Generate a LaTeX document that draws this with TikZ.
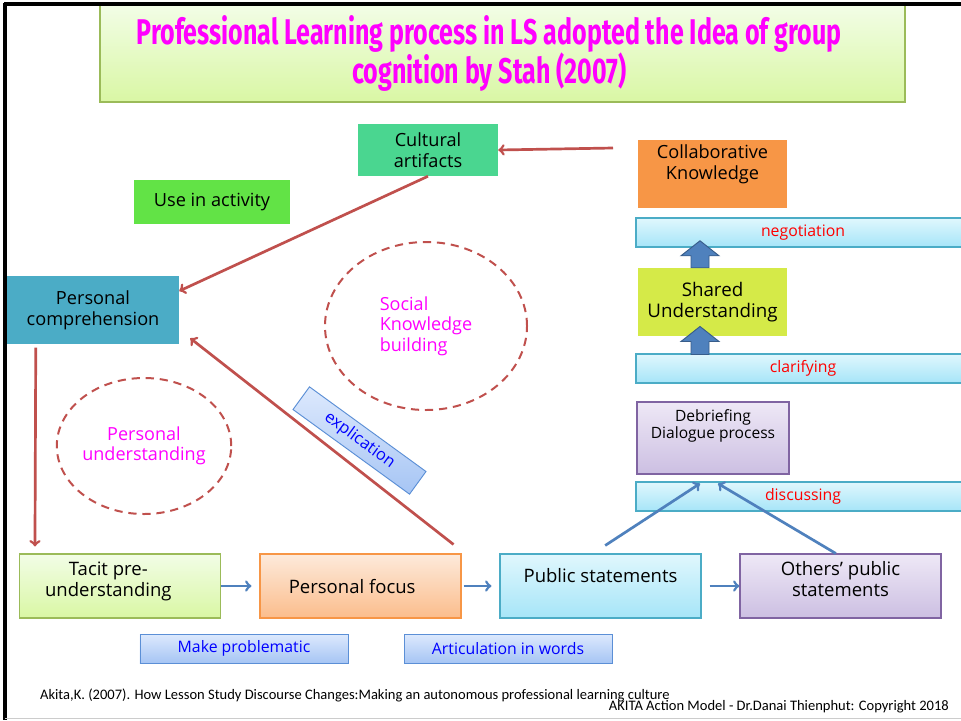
\documentclass[tikz,border=0pt]{standalone}
\usepackage{fontspec}
\setmainfont{Open Sans}
\newfontfamily\titlefont[FakeStretch=0.7]{Fira Sans}
\newfontfamily\notefont{Carlito}
\usetikzlibrary{arrows,shapes.geometric}

\definecolor{arrowred}{HTML}{C0504D}
\definecolor{arrowblue}{HTML}{4F81BD}
\definecolor{arrowedge}{HTML}{385D8A}
\definecolor{titletop}{HTML}{F2FDE6}
\definecolor{titlebottom}{HTML}{D9F7A4}
\definecolor{greenedge}{HTML}{9BBB59}
\definecolor{cyantop}{HTML}{E0F7FD}
\definecolor{cyanbottom}{HTML}{A6E5F8}
\definecolor{cyanedge}{HTML}{4BACC6}
\definecolor{lilactop}{HTML}{EEE8F6}
\definecolor{lilacbottom}{HTML}{CCBFE2}
\definecolor{lilacedge}{HTML}{8064A2}
\definecolor{peachtop}{HTML}{FDEADB}
\definecolor{peachbottom}{HTML}{FBBD8C}
\definecolor{orangeedge}{HTML}{F79646}
\definecolor{bluetop}{HTML}{DDE9FD}
\definecolor{bluebottom}{HTML}{A6C5F4}
\definecolor{blueedge}{HTML}{5B8FD6}
\definecolor{cultgreen}{HTML}{4AD690}
\definecolor{usegreen}{HTML}{62E346}
\definecolor{compteal}{HTML}{4BACC6}
\definecolor{sharedlime}{HTML}{D5EA48}
\definecolor{textmagenta}{HTML}{FF00FF}

\begin{document}
\begin{tikzpicture}[x=0.03cm, y=-0.03cm]

	\tikzstyle{flat_box}=[rectangle, align=center, inner sep=0pt, font=\fontsize{15.5}{18}\selectfont]
	\tikzstyle{main_box}=[rectangle, minimum width=6.03cm, minimum height=1.92cm, align=center, inner sep=0pt, line width=0.9pt, font=\fontsize{15.8}{17.5}\selectfont]
	\tikzstyle{step_bar}=[rectangle, minimum width=10.02cm, minimum height=0.87cm, top color=cyantop, bottom color=cyanbottom, draw=cyanedge, line width=0.9pt, text=red, font=\fontsize{13.5}{15}\selectfont]
	\tikzstyle{tag_box}=[rectangle, minimum width=6.24cm, minimum height=0.87cm, top color=bluetop, bottom color=bluebottom, draw=blueedge, line width=0.8pt, text=blue, font=\fontsize{13.5}{15}\selectfont]
	\tikzstyle{thought_cloud}=[ellipse, draw=arrowred, line width=1.7pt, dash pattern=on 7pt off 5pt, text=textmagenta, inner sep=0pt, align=center, font=\fontsize{15.4}{17.5}\selectfont]
	\tikzstyle{red_arrow}=[->, draw=arrowred, line width=2.3pt]
	\tikzstyle{blue_arrow}=[->, draw=arrowblue, line width=2.3pt]
	\tikzstyle{block_arrow}=[fill=arrowblue, draw=arrowedge, line width=0.8pt, line join=miter]

	\useasboundingbox[fill=white] (0,0) rectangle (961,720);

	\node[rectangle, minimum width=24.15cm, minimum height=2.91cm, top color=titletop, bottom color=titlebottom, draw=greenedge, line width=1.2pt, align=center, text=textmagenta, font=\titlefont\bfseries\fontsize{30.5}{33.5}\selectfont] at (502.5, 53.5) (title) {Professional Learning process in LS adopted the Idea of group\hspace*{0.8cm}\\ cognition by Stah (2007)\hspace*{0.8cm}};

	\node[flat_box, minimum width=4.2cm, minimum height=1.56cm, fill=cultgreen] at (428, 150) (cultural) {Cultural\\ artifacts};
	\node[flat_box, minimum width=4.47cm, minimum height=2.04cm, fill=orangeedge, text depth=20pt] at (712.5, 174) (collab) {Collaborative\\ Knowledge};
	\node[flat_box, minimum width=4.68cm, minimum height=1.32cm, fill=usegreen] at (212, 202) (use_activity) {Use in activity};
	\node[flat_box, minimum width=5.16cm, minimum height=2.04cm, fill=compteal] at (93, 310) (personal_comp) {Personal\\ comprehension};
	\node[flat_box, minimum width=4.47cm, minimum height=2.04cm, fill=sharedlime, font=\fontsize{16}{18.5}\selectfont] at (712.5, 302) (shared) {Shared\\ Understanding};

	\node[step_bar] at (803, 232.5) (negotiation) {negotiation};
	\node[step_bar] at (803, 368.5) (clarifying) {clarifying};
	\node[step_bar] at (803, 496.5) (discussing) {discussing};

	\node[main_box, minimum width=4.56cm, minimum height=2.16cm, top color=lilactop, bottom color=lilacbottom, draw=lilacedge, text depth=24pt, font=\fontsize{13.3}{15}\selectfont] at (713, 438) (debrief) {Debriefing\\ Dialogue process};

	\path ([xshift=-0.375cm]shared.north) coordinate (shared_top);
	\path ([xshift=-0.375cm]clarifying.north west -| shared.north) coordinate (clarifying_top);
	\filldraw[block_arrow] (shared_top) ++(-9,0) -- ++(0,-12) -- ++(-10,0) -- ++(19,-15) -- ++(19,15) -- ++(-10,0) -- ++(0,12) -- cycle;
	\filldraw[block_arrow] (clarifying_top) ++(-9,1) -- ++(0,-13) -- ++(-10,0) -- ++(19,-15) -- ++(19,15) -- ++(-10,0) -- ++(0,13) -- cycle;

	\node[thought_cloud, minimum width=6.06cm, minimum height=5.04cm, align=left] at (426, 326) (social) {Social\\ Knowledge\\ building};
	\node[thought_cloud, minimum width=5.04cm, minimum height=4.08cm] at (144, 446) (personal_und) {Personal\\ understanding};

	\node[main_box, top color=titletop, bottom color=titlebottom, draw=greenedge, text depth=12pt] at (120, 586) (tacit) {Tacit pre-\hspace*{0.7cm}\\ understanding\hspace*{0.7cm}};
	\node[main_box, top color=peachtop, bottom color=peachbottom, draw=orangeedge] at (360.5, 586) (pfocus) {Personal focus\hspace*{0.5cm}};
	\node[main_box, top color=cyantop, bottom color=cyanbottom, draw=cyanedge, text depth=18pt] at (600.5, 586) (public) {Public statements};
	\node[main_box, top color=lilactop, bottom color=lilacbottom, draw=lilacedge, text depth=12pt] at (840.5, 586) (others) {Others' public\\ statements};

	\node[tag_box] at (244, 648.5) (make_prob) {Make problematic};
	\node[tag_box] at (508, 648.5) (articulation) {Articulation in words};
	\node[tag_box, minimum width=4.32cm, minimum height=0.84cm, rotate=-36, font=\fontsize{14}{15}\selectfont] at (359.5, 440.5) (explication) {explication};

	\coordinate (collab_tail) at (613, 148);
	\draw[red_arrow] (collab_tail) -- (cultural.east);
	\draw[red_arrow] (cultural.south) -- ([yshift=0.57cm]personal_comp.east);
	\draw[red_arrow] ([xshift=-0.24cm, yshift=0.27cm]pfocus.north east) -- ([xshift=0.33cm, yshift=0.18cm]personal_comp.south east);
	\draw[red_arrow] ([xshift=0.87cm, yshift=-0.1cm]personal_comp.south west) -- ([xshift=0.48cm, yshift=0.21cm]tacit.north west);

	\draw[blue_arrow, shorten >=0.24cm] (tacit.east) -- (pfocus.west);
	\draw[blue_arrow, shorten <=0.06cm, shorten >=0.24cm] (pfocus.east) -- (public.west);
	\draw[blue_arrow, shorten <=0.24cm] (public.east) -- (others.west);
	\draw[blue_arrow] ([xshift=0.14cm, yshift=0.24cm]public.north) -- ([xshift=-0.39cm, yshift=-0.27cm]debrief.south);
	\draw[blue_arrow] ([xshift=-0.14cm]others.north) -- ([xshift=0.15cm, yshift=-0.27cm]debrief.south);

	\node[anchor=west, font=\notefont\fontsize{12.4}{14}\selectfont] at (36, 695) (reference) {Akita,K. (2007). How Lesson Study Discourse Changes:Making an autonomous professional learning culture};
	\node[anchor=east, font=\notefont\fontsize{12.4}{14}\selectfont] at (953, 707) (copyright) {AKITA Action Model - Dr.Danai Thienphut: Copyright 2018};

	\draw[line width=2.6pt] (4, 4) -- (961, 4);
	\draw[line width=2.6pt] (5, 3) -- (5, 720);
	\draw[black!20, line width=0.8pt] (5, 718) -- (961, 718);
\end{tikzpicture}
\end{document}
